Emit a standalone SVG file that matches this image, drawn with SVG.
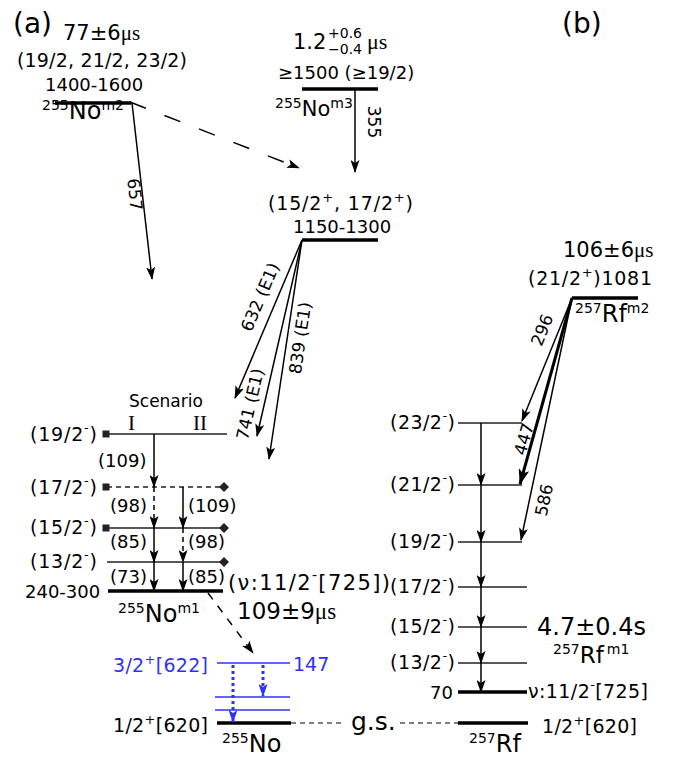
<svg xmlns="http://www.w3.org/2000/svg" width="678" height="759" viewBox="0 0 678 759">
<defs>
<style>
text{font-family:"DejaVu Sans","Liberation Sans",sans-serif;fill:#000}
.s18{font-size:18px}
.s19{font-size:19px}
.s17{font-size:17px}
.ser{font-family:"Liberation Serif","DejaVu Serif",serif}
.blue{fill:#3030ff}
.lv{stroke:#222;stroke-width:1.4;fill:none}
.thick{stroke:#000;stroke-width:3.5;fill:none}
.tr{stroke:#000;stroke-width:1.5;fill:none;marker-end:url(#ah)}
.bl{stroke:#3030ff;stroke-width:1.5;fill:none}
.bd{stroke:#3030ff;stroke-width:3;stroke-dasharray:3,3;fill:none;marker-end:url(#ahb)}
</style>
<marker id="ah" markerUnits="userSpaceOnUse" markerWidth="13" markerHeight="9" refX="12" refY="4.5" orient="auto">
<path d="M0,0 L13,4.5 L0,9 L3,4.5 Z" fill="#000"/>
</marker>
<marker id="ahbig" markerUnits="userSpaceOnUse" markerWidth="16" markerHeight="11" refX="15" refY="5.5" orient="auto">
<path d="M0,0 L16,5.5 L0,11 L4,5.5 Z" fill="#000"/>
</marker>
<marker id="ahb" markerUnits="userSpaceOnUse" markerWidth="13" markerHeight="9" refX="12" refY="4.5" orient="auto">
<path d="M0,0 L13,4.5 L0,9 L3,4.5 Z" fill="#3030ff"/>
</marker>
<rect id="sq" x="-3.5" y="-3.5" width="7" height="7" fill="#222"/>
<path id="dm" d="M-5,0 L0,-5 L5,0 L0,5 Z" fill="#222"/>
</defs>

<text x="13" y="33" font-size="28">(a)</text>
<text x="562" y="33" font-size="28">(b)</text>

<g id="No255m2">
<text x="63" y="40" font-size="21">77±6<tspan class="ser">μs</tspan></text>
<text x="17" y="67" class="s19" textLength="170" lengthAdjust="spacing">(19/2, 21/2, 23/2)</text>
<text x="45" y="91" class="s18">1400-1600</text>
<line x1="55" y1="103" x2="131" y2="103" class="thick"/>
<text x="42" y="119" font-size="24"><tspan font-size="14" dy="-9">255</tspan><tspan dy="9">No</tspan><tspan font-size="14" dy="-9">m2</tspan></text>
</g>

<g id="No255m3">
<text x="293" y="49" font-size="21">1.2</text>
<text x="328" y="38" font-size="14">+0.6</text>
<text x="328" y="54" font-size="14">−0.4</text>
<text x="367" y="49" font-size="22" class="ser">μs</text>
<text x="278" y="79" class="s18">≥1500 (≥19/2)</text>
<line x1="302" y1="89" x2="378" y2="89" class="thick"/>
<text x="275" y="116" font-size="21"><tspan font-size="14" dy="-8">255</tspan><tspan dy="8">No</tspan><tspan font-size="14" dy="-8">m3</tspan></text>
</g>

<g id="No255_1150">
<text x="268" y="210" class="s19" textLength="145" lengthAdjust="spacing">(15/2<tspan font-size="13" dy="-8">+</tspan><tspan dy="8">, 17/2</tspan><tspan font-size="13" dy="-8">+</tspan><tspan dy="8">)</tspan></text>
<text x="293" y="233" class="s18">1150-1300</text>
<line x1="302" y1="240" x2="378" y2="240" class="thick"/>
</g>

<g id="scenario">
<text x="129" y="407" class="s17">Scenario</text>
<text x="128" y="430" font-size="21" class="ser">I</text>
<text x="193" y="430" font-size="21" class="ser">II</text>
</g>

<g id="No255_band">
<text x="30" y="441" class="s19" textLength="67" lengthAdjust="spacing">(19/2<tspan font-size="13" dy="-9">-</tspan><tspan dy="9">)</tspan></text>
<line x1="107" y1="434" x2="227" y2="434" class="lv"/>
<use href="#sq" x="106" y="434"/>
<text x="30" y="494" class="s19" textLength="67" lengthAdjust="spacing">(17/2<tspan font-size="13" dy="-9">-</tspan><tspan dy="9">)</tspan></text>
<line x1="107" y1="487" x2="224" y2="487" class="lv" stroke-dasharray="5,4"/>
<use href="#sq" x="106" y="487"/>
<use href="#dm" x="224" y="487"/>
<text x="30" y="534" class="s19" textLength="67" lengthAdjust="spacing">(15/2<tspan font-size="13" dy="-9">-</tspan><tspan dy="9">)</tspan></text>
<line x1="107" y1="528" x2="224" y2="528" class="lv"/>
<use href="#sq" x="106" y="528"/>
<use href="#dm" x="224" y="528"/>
<text x="30" y="568" class="s19" textLength="67" lengthAdjust="spacing">(13/2<tspan font-size="13" dy="-9">-</tspan><tspan dy="9">)</tspan></text>
<line x1="107" y1="562" x2="224" y2="562" class="lv"/>
<use href="#dm" x="224" y="562"/>
<text x="25" y="598" class="s18">240-300</text>
<line x1="108" y1="591" x2="223" y2="591" class="thick"/>
<text x="228" y="590" font-size="21" textLength="162" lengthAdjust="spacing">(ν:11/2<tspan font-size="14" dy="-10">-</tspan><tspan dy="10">[725])</tspan></text>
<text x="118" y="622" font-size="24"><tspan font-size="14" dy="-9">255</tspan><tspan dy="9">No</tspan><tspan font-size="14" dy="-9">m1</tspan></text>
<text x="237" y="619" font-size="23">109±9<tspan class="ser">μs</tspan></text>
<text x="98" y="467" class="s18">(109)</text>
<text x="110" y="512" class="s18">(98)</text>
<text x="188" y="512" class="s18">(109)</text>
<text x="110" y="548" class="s18">(85)</text>
<text x="188" y="548" class="s18">(98)</text>
<text x="110" y="583" class="s18">(73)</text>
<text x="188" y="583" class="s18">(85)</text>
</g>

<g id="No255_gs">
<text x="113" y="672" class="s19 blue" textLength="95" lengthAdjust="spacing">3/2<tspan font-size="13" dy="-8">+</tspan><tspan dy="8">[622]</tspan></text>
<line x1="217" y1="663" x2="290" y2="663" class="bl"/>
<text x="293" y="671" class="s19 blue">147</text>
<line x1="215" y1="697" x2="290" y2="697" class="bl"/>
<line x1="215" y1="710" x2="290" y2="710" class="bl"/>
<text x="113" y="732" class="s19" textLength="95" lengthAdjust="spacing">1/2<tspan font-size="13" dy="-8">+</tspan><tspan dy="8">[620]</tspan></text>
<line x1="217" y1="723" x2="291" y2="723" class="thick"/>
<text x="222" y="752" font-size="24"><tspan font-size="14" dy="-9">255</tspan><tspan dy="9">No</tspan></text>
<text x="351" y="730" font-size="25">g.s.</text>
</g>

<g id="Rf257m2">
<text x="563" y="257" font-size="21">106±6<tspan class="ser">μs</tspan></text>
<text x="528" y="285" class="s19" textLength="124" lengthAdjust="spacing">(21/2<tspan font-size="13" dy="-8">+</tspan><tspan dy="8">)1081</tspan></text>
<line x1="572" y1="298" x2="638" y2="298" class="thick"/>
<text x="575" y="322" font-size="24"><tspan font-size="14" dy="-9">257</tspan><tspan dy="9">Rf</tspan><tspan font-size="14" dy="-9">m2</tspan></text>
</g>

<g id="Rf257_band">
<text x="390" y="429" class="s19" textLength="65" lengthAdjust="spacing">(23/2<tspan font-size="13" dy="-9">-</tspan><tspan dy="9">)</tspan></text>
<line x1="458" y1="423" x2="522" y2="423" class="lv"/>
<text x="390" y="491" class="s19" textLength="65" lengthAdjust="spacing">(21/2<tspan font-size="13" dy="-9">-</tspan><tspan dy="9">)</tspan></text>
<line x1="458" y1="485" x2="522" y2="485" class="lv"/>
<text x="390" y="548" class="s19" textLength="65" lengthAdjust="spacing">(19/2<tspan font-size="13" dy="-9">-</tspan><tspan dy="9">)</tspan></text>
<line x1="458" y1="542" x2="522" y2="542" class="lv"/>
<text x="390" y="593" class="s19" textLength="65" lengthAdjust="spacing">(17/2<tspan font-size="13" dy="-9">-</tspan><tspan dy="9">)</tspan></text>
<line x1="458" y1="587" x2="527" y2="587" class="lv"/>
<text x="390" y="633" class="s19" textLength="65" lengthAdjust="spacing">(15/2<tspan font-size="13" dy="-9">-</tspan><tspan dy="9">)</tspan></text>
<line x1="458" y1="627" x2="527" y2="627" class="lv"/>
<text x="390" y="669" class="s19" textLength="65" lengthAdjust="spacing">(13/2<tspan font-size="13" dy="-9">-</tspan><tspan dy="9">)</tspan></text>
<line x1="458" y1="663" x2="527" y2="663" class="lv"/>
<text x="430" y="699" class="s18">70</text>
<line x1="458" y1="692" x2="527" y2="692" class="thick"/>
<text x="528" y="698" class="s19" textLength="120" lengthAdjust="spacing">ν:11/2<tspan font-size="13" dy="-9">-</tspan><tspan dy="9">[725]</tspan></text>
<text x="537" y="635" font-size="24">4.7±0.4s</text>
<text x="553" y="663" font-size="23"><tspan font-size="14" dy="-9">257</tspan><tspan dy="9">Rf</tspan><tspan font-size="14" dx="3" dy="-9">m1</tspan></text>
</g>

<g id="Rf257_gs">
<line x1="458" y1="723" x2="528" y2="723" class="thick"/>
<text x="542" y="733" class="s19" textLength="95" lengthAdjust="spacing">1/2<tspan font-size="13" dy="-8">+</tspan><tspan dy="8">[620]</tspan></text>
<text x="469" y="752" font-size="24"><tspan font-size="14" dy="-9">257</tspan><tspan dy="9">Rf</tspan></text>
</g>

<g id="connectors">
<line x1="130" y1="102" x2="299" y2="168" class="tr" stroke-dasharray="17,20"/>
<line x1="132" y1="103" x2="152" y2="279" class="tr"/>
<text transform="translate(129,195) rotate(83.5)" text-anchor="middle" class="s17">657</text>
<line x1="355" y1="89" x2="355" y2="172" class="tr"/>
<text transform="translate(368,122) rotate(90)" text-anchor="middle" class="s17">355</text>
<line x1="302" y1="240" x2="235" y2="398" class="tr"/>
<line x1="302" y1="240" x2="257" y2="436" class="tr"/>
<line x1="302" y1="240" x2="269" y2="459" class="tr"/>
<text transform="translate(260,297) rotate(-67)" text-anchor="middle" class="s17" dy="6">632 (E1)</text>
<text transform="translate(250,404) rotate(-77)" text-anchor="middle" class="s17" dy="6">741 (E1)</text>
<text transform="translate(300,338) rotate(-81.6)" text-anchor="middle" class="s17" dy="6">839 (E1)</text>
<line x1="154" y1="434" x2="154" y2="487" class="tr"/>
<line x1="154" y1="487" x2="154" y2="528" class="tr" stroke-dasharray="5,4"/>
<line x1="154" y1="528" x2="154" y2="562" class="tr"/>
<line x1="154" y1="562" x2="154" y2="591" class="tr"/>
<line x1="183" y1="487" x2="183" y2="528" class="tr"/>
<line x1="183" y1="528" x2="183" y2="562" class="tr" stroke-dasharray="5,4"/>
<line x1="183" y1="562" x2="183" y2="591" class="tr"/>
<line x1="208" y1="593" x2="253" y2="653" class="tr" stroke-dasharray="8,8"/>
<line x1="233" y1="665" x2="233" y2="722" class="bd"/>
<line x1="263" y1="665" x2="263" y2="696" class="bd"/>
<line x1="291" y1="723" x2="344" y2="723" stroke="#000" stroke-width="1" stroke-dasharray="5,4"/>
<line x1="400" y1="723" x2="458" y2="723" stroke="#000" stroke-width="1" stroke-dasharray="5,4"/>
<line x1="572" y1="298" x2="522" y2="421" class="tr"/>
<line x1="572" y1="298" x2="520" y2="484" stroke="#000" stroke-width="3" marker-end="url(#ahbig)"/>
<line x1="572" y1="298" x2="521" y2="540" class="tr"/>
<text transform="translate(542,330) rotate(-68)" text-anchor="middle" class="s17" dy="6">296</text>
<text transform="translate(524,439) rotate(-74)" text-anchor="middle" class="s17" dy="6">447</text>
<text transform="translate(544,500) rotate(-78)" text-anchor="middle" class="s17" dy="6">586</text>
<line x1="481" y1="423" x2="481" y2="485" class="tr"/>
<line x1="481" y1="485" x2="481" y2="542" class="tr"/>
<line x1="481" y1="542" x2="481" y2="587" class="tr"/>
<line x1="481" y1="587" x2="481" y2="627" class="tr"/>
<line x1="481" y1="627" x2="481" y2="663" class="tr"/>
<line x1="481" y1="663" x2="481" y2="692" class="tr"/>
</g>
</svg>
